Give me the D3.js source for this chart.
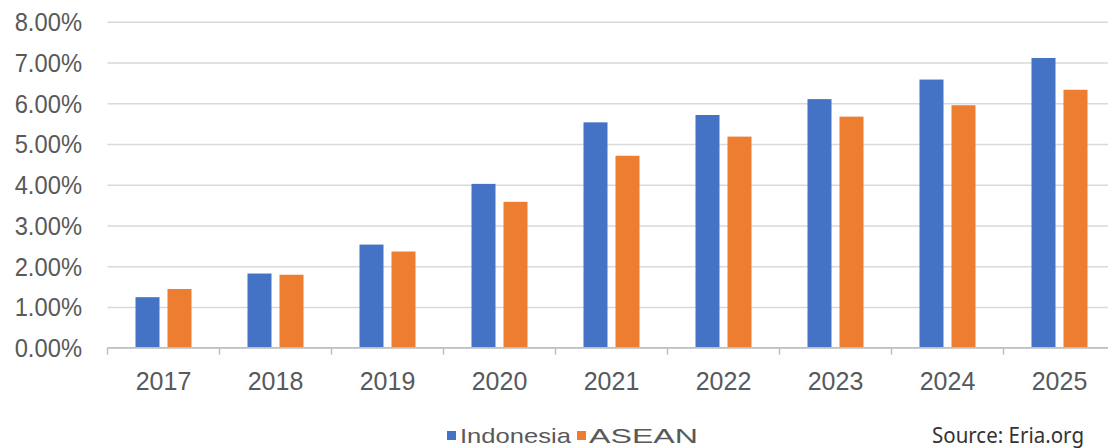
<!DOCTYPE html>
<html>
<head>
<meta charset="utf-8">
<script src="https://cdn.jsdelivr.net/npm/d3@7"></script>
<style>
  html, body { margin: 0; padding: 0; background: #fff; }
  svg { display: block; }
</style>
</head>
<body>
<svg id="chart" width="1108" height="448"></svg>
<script>
const years = ["2017","2018","2019","2020","2021","2022","2023","2024","2025"];
const seriesNames = ["Indonesia","ASEAN"];
const indonesia = [0.0124, 0.0182, 0.0253, 0.0402, 0.0553, 0.0571, 0.0610, 0.0658, 0.0711];
const asean     = [0.0144, 0.0179, 0.0236, 0.0358, 0.0471, 0.0518, 0.0567, 0.0595, 0.0633];
const yTicks = [0, 0.01, 0.02, 0.03, 0.04, 0.05, 0.06, 0.07, 0.08];
const sourceText = "Source: Eria.org";

const colors = { Indonesia: "#4472C4", ASEAN: "#ED7D31" };
const textColor = "#595959";

const svg = d3.select("#chart");
const W = 1108;
const left = 107.5, step = 112;
const x = d3.scaleBand().domain(years).range([left, left + step * years.length]).padding(0);
const x1 = d3.scaleBand().domain(seriesNames).range([-28, 28]).paddingInner(0.25).paddingOuter(0);
const y = d3.scaleLinear().domain([0, 0.08]).range([347.7, 21.7]);

// Y axis with gridlines
const yAxis = d3.axisLeft(y).tickValues(yTicks).tickFormat(d3.format(".2%"))
  .tickSize(-(W - left)).tickPadding(25.5);
const gy = svg.append("g").attr("transform", `translate(${left},0)`).call(yAxis);
gy.select(".domain").remove();
gy.selectAll(".tick line").attr("stroke", "#d9d9d9").attr("stroke-width", 1.5);
gy.selectAll(".tick text")
  .attr("x", 0).attr("dy", "0.36em")
  .attr("transform", "translate(-25.5,0) scale(0.95,1)")
  .attr("fill", textColor)
  .style("font-family", "'Liberation Sans', Arial, sans-serif")
  .style("font-size", "25px");

// Bars
const rows = years.map((yr, i) => ({ year: yr, values: [
  { key: "Indonesia", value: indonesia[i] },
  { key: "ASEAN", value: asean[i] }
]}));
const groups = svg.append("g").selectAll("g").data(rows).join("g")
  .attr("transform", d => `translate(${x(d.year) + x.bandwidth() / 2},0)`);
groups.selectAll("rect").data(d => d.values).join("rect")
  .attr("x", d => x1(d.key))
  .attr("width", x1.bandwidth())
  .attr("y", d => y(d.value))
  .attr("height", d => y(0) - y(d.value))
  .attr("fill", d => colors[d.key]);

// X axis
const xAxis = d3.axisBottom(x).tickSize(0).tickPadding(0);
const gx = svg.append("g").attr("transform", `translate(0,${y(0)})`).call(xAxis);
gx.select(".domain").remove();
gx.selectAll(".tick text")
  .attr("y", 0).attr("dy", 0)
  .attr("transform", "translate(0,41.8)")
  .attr("fill", textColor)
  .style("font-family", "'Liberation Sans', Arial, sans-serif")
  .style("font-size", "25px");
svg.append("line")
  .attr("x1", left).attr("x2", W).attr("y1", y(0)).attr("y2", y(0))
  .attr("stroke", "#bfbfbf").attr("stroke-width", 1.5);
svg.append("g").selectAll("line").data(years).join("line")
  .attr("x1", d => x(d)).attr("x2", d => x(d))
  .attr("y1", y(0)).attr("y2", y(0) + 7)
  .attr("stroke", "#bfbfbf").attr("stroke-width", 1.5);

// Legend
const legendItems = [
  { key: "Indonesia", sx: 447, tx: 460, len: 111 },
  { key: "ASEAN", sx: 577, tx: 589, len: 109 }
];
const lg = svg.append("g");
lg.selectAll("rect").data(legendItems).join("rect")
  .attr("x", d => d.sx).attr("y", 431).attr("width", 9).attr("height", 9)
  .attr("fill", d => colors[d.key]);
lg.selectAll("text").data(legendItems).join("text")
  .attr("x", d => d.tx).attr("y", 442.5)
  .attr("textLength", d => d.len).attr("lengthAdjust", "spacingAndGlyphs")
  .attr("fill", textColor)
  .style("font-family", "'Liberation Sans', Arial, sans-serif")
  .style("font-size", "21px")
  .text(d => d.key);

// Source
svg.append("text")
  .attr("x", 932).attr("y", 443.3)
  .attr("textLength", 152).attr("lengthAdjust", "spacingAndGlyphs")
  .attr("fill", "#333")
  .style("font-family", "'Noto Sans', 'Open Sans', sans-serif")
  .style("font-size", "21px")
  .text(sourceText);
</script>
</body>
</html>
